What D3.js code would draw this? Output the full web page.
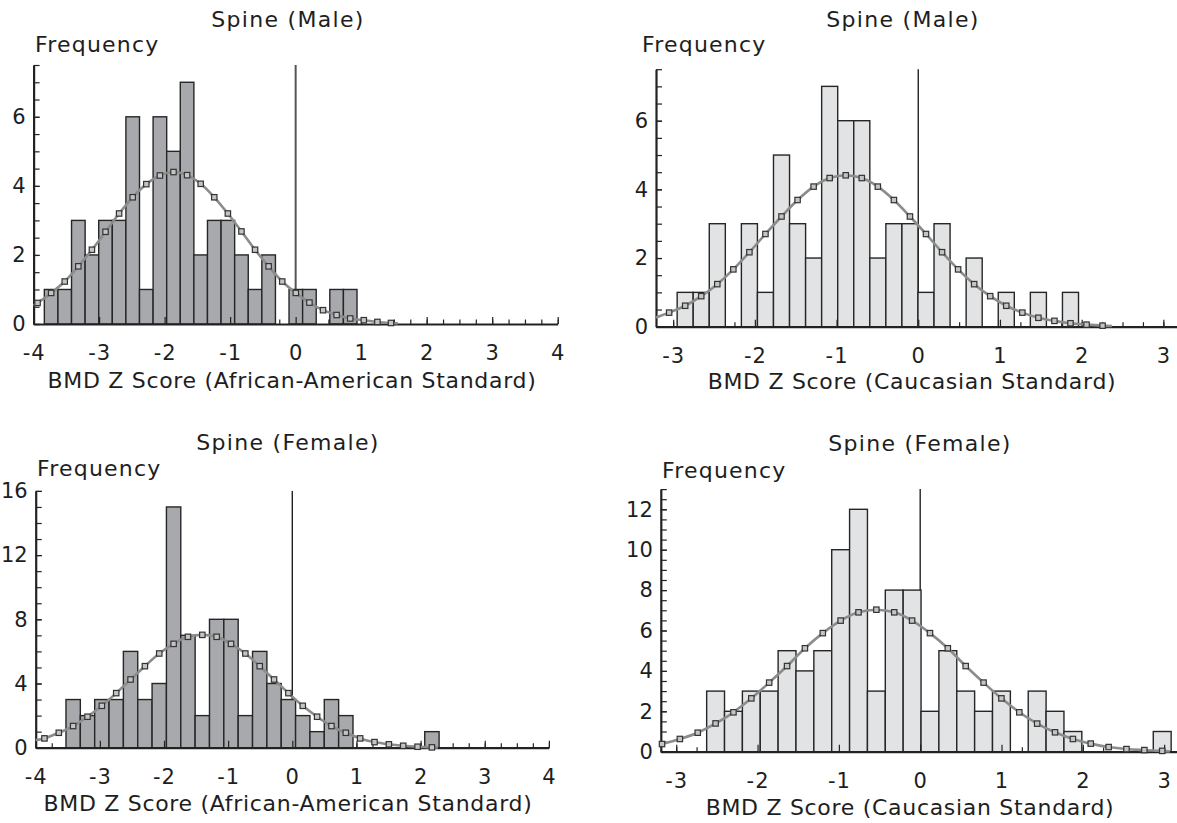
<!DOCTYPE html>
<html>
<head>
<meta charset="utf-8">
<script src="https://cdn.jsdelivr.net/npm/d3@7"></script>
<style>
  body { margin: 0; background: #fff; }
  text { font-family: "DejaVu Sans", sans-serif; fill: #1e1e1e; }
</style>
</head>
<body>
<svg id="chart" width="1177" height="823"></svg>
<script>

// ---- data ----
// male, African-American standard
var maleAACounts = [1,1,3,2,3,3,6,1,6,5,7,2,3,3,2,1,2,0,1,1,0,1,1];
var maleAABins = [-3.836, 0.2075];           // first edge, bin width
var maleAAFit = [0.61,0.90,1.23,1.67,2.15,2.67,3.20,3.67,4.05,4.30,4.40,4.31,4.06,3.67,
                 3.20,2.68,2.15,1.67,1.23,0.90,0.62,0.40,0.26,0.16,0.11,0.06,0.03];
var maleAAFitFirst = -1;                      // bin index of first fit point
var maleAAFitEnds = [[-4, 0.54], [1.56, 0.02]];

// male, Caucasian standard
var maleCCounts = [1,1,3,0,3,1,5,3,2,7,6,6,2,3,3,1,3,0,2,0,1,0,1,0,1];
var maleCBins = [-2.951, 0.1965];
var maleCFit = [0.41,0.61,0.89,1.24,1.67,2.17,2.70,3.21,3.69,4.08,4.33,4.41,4.33,4.08,
                3.69,3.21,2.70,2.17,1.67,1.24,0.89,0.61,0.41,0.26,0.17,0.10,0.06,0.03];
var maleCFitFirst = -1;
var maleCFitEnds = [[-3.21, 0.27], [2.37, 0.02]];

// female, African-American standard
var femaleAACounts = [3,2,3,3,6,3,4,15,7,2,8,8,2,6,4,3,2,1,3,2,0,0,0,0,0,1];
var femaleAABins = [-3.528, 0.2237];
var femaleAAFit = [0.58,0.93,1.35,1.93,2.61,3.40,4.25,5.08,5.87,6.47,6.91,7.03,6.91,6.47,
                   5.87,5.08,4.25,3.40,2.61,1.93,1.35,0.93,0.58,0.35,0.21,0.12,0.06,0.02];
var femaleAAFitFirst = -2;
var femaleAAFitEnds = [[-4, 0.48], [2.27, 0.01]];

// female, Caucasian standard
var femaleCCounts = [3,2,3,3,5,4,5,10,12,3,8,8,2,5,3,2,3,0,3,2,1,0,0,0,0,1];
var femaleCBins = [-2.626, 0.2197];
var femaleCFit = [0.38,0.63,0.94,1.40,1.95,2.64,3.42,4.24,5.12,5.87,6.49,6.90,7.03,6.90,
                  6.49,5.87,5.12,4.24,3.42,2.64,1.95,1.39,0.96,0.63,0.40,0.23,0.13,0.08,0.04];
var femaleCFitFirst = -3;
var femaleCFitEnds = [null, [3.07, 0.01]];

var aaTicks = [-4,-3,-2,-1,0,1,2,3,4];
var cTicks = [-3,-2,-1,0,1,2,3];
var maleYTicks = [0,2,4,6];
var femaleAAYTicks = [0,4,8,12,16];
var femaleCYTicks = [0,2,4,6,8,10,12];

var titles = ["Spine (Male)", "Spine (Male)", "Spine (Female)", "Spine (Female)"];
var xTitles = ["BMD Z Score (African-American Standard)", "BMD Z Score (Caucasian Standard)",
               "BMD Z Score (African-American Standard)", "BMD Z Score (Caucasian Standard)"];
var yTitle = "Frequency";

// ---- layout ----
var panels = [
  { counts: maleAACounts, bins: maleAABins, fit: maleAAFit, fitFirst: maleAAFitFirst, ends: maleAAFitEnds,
    xDom: [-4, 4], xRange: [33.6, 557.7], yDom: [0, 7.5], yRange: [324, 65],
    xTicks: aaTicks, yTicks: maleYTicks, yMinor: 0.5, fill: "#a7a9ac", zero: ["#555", 2],
    title: titles[0], titleX: 288, titleY: 27, freqX: 35, freqY: 52, xTitle: xTitles[0], xTitleX: 292, xTitleY: 388 },
  { counts: maleCCounts, bins: maleCBins, fit: maleCFit, fitFirst: maleCFitFirst, ends: maleCFitEnds,
    xDom: [-3.21, 3.2], xRange: [656, 1179.7], yDom: [0, 7.5], yRange: [326.7, 69.2],
    xTicks: cTicks, yTicks: maleYTicks, yMinor: 0.5, fill: "#e2e3e4", zero: ["#222", 1.4],
    title: titles[1], titleX: 903, titleY: 27, freqX: 642, freqY: 52, xTitle: xTitles[1], xTitleX: 912, xTitleY: 389 },
  { counts: femaleAACounts, bins: femaleAABins, fit: femaleAAFit, fitFirst: femaleAAFitFirst, ends: femaleAAFitEnds,
    xDom: [-4, 4], xRange: [35.7, 548.9], yDom: [0, 16], yRange: [747.7, 490.9],
    xTicks: aaTicks, yTicks: femaleAAYTicks, yMinor: 1, fill: "#a7a9ac", zero: ["#222", 1.4],
    title: titles[2], titleX: 288, titleY: 450, freqX: 37, freqY: 476, xTitle: xTitles[2], xTitleX: 288, xTitleY: 811 },
  { counts: femaleCCounts, bins: femaleCBins, fit: femaleCFit, fitFirst: femaleCFitFirst, ends: femaleCFitEnds,
    xDom: [-3.19, 3.2], xRange: [660.8, 1180.4], yDom: [0, 13], yRange: [751.7, 489.1],
    xTicks: cTicks, yTicks: femaleCYTicks, yMinor: 0.5, fill: "#e2e3e4", zero: ["#222", 1.4],
    title: titles[3], titleX: 920, titleY: 451, freqX: 662, freqY: 478, xTitle: xTitles[3], xTitleX: 910, xTitleY: 815 }
];

var svg = d3.select("#chart");

function drawPanel(p) {
  var g = svg.append("g");
  var x = d3.scaleLinear().domain(p.xDom).range(p.xRange);
  var y = d3.scaleLinear().domain(p.yDom).range(p.yRange);
  var start = p.bins[0], w = p.bins[1];

  // titles
  g.append("text").attr("x", p.titleX).attr("y", p.titleY)
    .attr("text-anchor", "middle").attr("font-size", "22px").attr("letter-spacing", "1.3px").text(p.title);
  g.append("text").attr("x", p.freqX).attr("y", p.freqY)
    .attr("font-size", "22px").attr("letter-spacing", "1.2px").text(yTitle);
  g.append("text").attr("x", p.xTitleX).attr("y", p.xTitleY)
    .attr("text-anchor", "middle").attr("font-size", "22px").attr("letter-spacing", "0.7px").text(p.xTitle);

  // minor ticks on x
  var minorX = d3.range(Math.ceil(p.xDom[0] / 0.25), Math.floor(p.xDom[1] / 0.25) + 1)
    .map(function(k){ return k * 0.25; });
  g.append("g").attr("transform", "translate(0," + y(0) + ")")
    .call(d3.axisBottom(x).tickValues(minorX).tickSizeInner(-4.5).tickSizeOuter(0).tickFormat(""))
    .call(function(a){ a.select(".domain").remove(); a.selectAll("line").attr("stroke", "#222").attr("stroke-width", 1.2); });

  var minorY = d3.range(0, p.yDom[1] + 0.001, p.yMinor);
  g.append("g").attr("transform", "translate(" + x(p.xDom[0]) + ",0)")
    .call(d3.axisLeft(y).tickValues(minorY).tickSizeInner(-6).tickSizeOuter(0).tickFormat(""))
    .call(function(a){ a.select(".domain").remove(); a.selectAll("line").attr("stroke", "#222").attr("stroke-width", 1.2); });

  // zero reference line
  g.append("line")
    .attr("x1", x(0)).attr("x2", x(0))
    .attr("y1", y(p.yDom[1])).attr("y2", y(0))
    .attr("stroke", p.zero[0]).attr("stroke-width", p.zero[1]);

  // bars
  g.selectAll("rect.bar")
    .data(p.counts.map(function(c, i){ return { i: i, c: c }; }).filter(function(d){ return d.c > 0; }))
    .enter()
    .append("rect")
    .attr("class", "bar")
    .attr("x", function(d){ return x(start + d.i * w); })
    .attr("y", function(d){ return y(d.c); })
    .attr("width", function(){ return x(start + w) - x(start); })
    .attr("height", function(d){ return y(0) - y(d.c); })
    .style("fill", p.fill)
    .style("stroke", "#262626")
    .style("stroke-width", 1.4);

  // axes
  g.append("g").attr("transform", "translate(0," + y(0) + ")")
    .call(d3.axisBottom(x).tickValues(p.xTicks).tickSizeInner(-7).tickSizeOuter(0).tickPadding(21)
      .tickFormat(function(d){ return d < 0 ? "-" + Math.abs(d) : d; }))
    .call(function(a){
      a.select(".domain").attr("stroke", "#222").attr("stroke-width", 2.2);
      a.selectAll("line").attr("stroke", "#222").attr("stroke-width", 1.2);
      a.selectAll("text").attr("font-size", "21px").attr("font-family", "DejaVu Sans")
        .attr("letter-spacing", "1px").attr("fill", "#1e1e1e");
    });

  g.append("g").attr("transform", "translate(" + x(p.xDom[0]) + ",0)")
    .call(d3.axisLeft(y).tickValues(p.yTicks).tickSizeInner(-6).tickSizeOuter(0).tickPadding(8))
    .call(function(a){
      a.select(".domain").attr("stroke", "#222").attr("stroke-width", 2.2);
      a.selectAll("line").attr("stroke", "#222").attr("stroke-width", 1.2);
      a.selectAll("text").attr("font-size", "21px").attr("font-family", "DejaVu Sans").attr("fill", "#1e1e1e");
    });

  // fitted normal curve with markers at bin midpoints
  var pts = p.fit.map(function(v, k){ return [start + (p.fitFirst + k + 0.5) * w, v]; });
  var linePts = pts.slice();
  if (p.ends[0]) linePts.unshift(p.ends[0]);
  if (p.ends[1]) linePts.push(p.ends[1]);

  var line = d3.line()
    .x(function(d){ return x(d[0]); })
    .y(function(d){ return y(d[1]); })
    .curve(d3.curveCatmullRom);

  g.append("path").datum(linePts)
    .attr("d", line)
    .attr("fill", "none")
    .attr("stroke", "#8c8c8c")
    .attr("stroke-width", 2.6);

  g.selectAll("rect.pt")
    .data(pts)
    .enter()
    .append("rect")
    .attr("class", "pt")
    .attr("x", function(d){ return x(d[0]) - 2.7; })
    .attr("y", function(d){ return y(d[1]) - 2.7; })
    .attr("width", 5.4)
    .attr("height", 5.4)
    .style("fill", "#c4c4c4")
    .style("stroke", "#333")
    .style("stroke-width", 1.2);
}

panels.forEach(drawPanel);

</script>
</body>
</html>
